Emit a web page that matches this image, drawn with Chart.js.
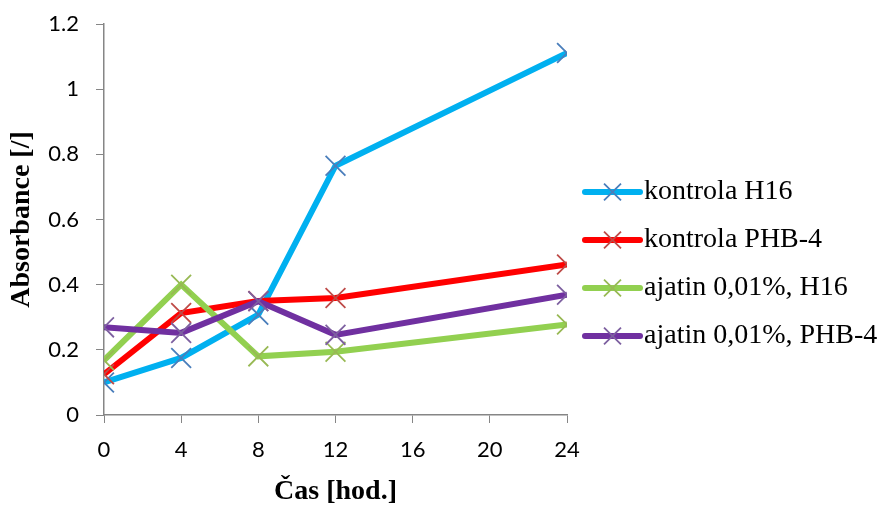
<!DOCTYPE html>
<html>
<head>
<meta charset="utf-8">
<script src="https://cdn.jsdelivr.net/npm/chart.js@4/dist/chart.umd.min.js"></script>
<style>
  html, body { margin: 0; padding: 0; background: #fff; }
  #wrap { width: 890px; height: 507px; }
</style>
</head>
<body>
<div id="wrap"><canvas id="c" width="890" height="507"></canvas></div>
<script>
// Sampling times [h]
const hours = [0, 4, 8, 12, 24];

// Absorbance readings per series
const kontrolaH16 = [0.10, 0.175, 0.308, 0.765, 1.111];
const kontrolaPHB4 = [0.125, 0.313, 0.35, 0.359, 0.462];
const ajatinH16 = [0.168, 0.40, 0.18, 0.194, 0.278];
const ajatinPHB4 = [0.269, 0.252, 0.349, 0.246, 0.369];

// Axis tick labels
const xTickLabels = ['0', '4', '8', '12', '16', '20', '24'];
const yTickLabels = ['0', '0.2', '0.4', '0.6', '0.8', '1', '1.2'];

const seriesLabels = ['kontrola H16', 'kontrola PHB-4', 'ajatin 0,01%, H16', 'ajatin 0,01%, PHB-4'];
const lineColors = ['#00B0F0', '#FF0000', '#92D050', '#7030A0'];
const markerColors = ['#4A7EBB', '#BE4B48', '#98B954', '#7D60A0'];

const seriesValues = [kontrolaH16, kontrolaPHB4, ajatinH16, ajatinPHB4];

const datasets = seriesValues.map((vals, i) => ({
  label: seriesLabels[i],
  data: hours.map((h, j) => ({ x: h, y: vals[j] })),
  borderColor: lineColors[i],
  backgroundColor: lineColors[i],
  borderWidth: 6,
  tension: 0,
  pointStyle: 'crossRot',
  pointRadius: 14,
  pointHoverRadius: 14,
  pointBorderColor: markerColors[i],
  pointBorderWidth: 1.8,
  order: seriesValues.length - i
}));

// Legend drawn at the right: line sample with marker, then label text
const sideLegend = {
  id: 'sideLegend',
  afterDraw(chart) {
    const ctx = chart.ctx;
    const x0 = 585, x1 = 640, textX = 644;
    const firstY = 192, step = 48;
    ctx.save();
    chart.data.datasets.forEach((ds, i) => {
      const y = firstY + i * step;
      ctx.beginPath();
      ctx.lineCap = 'round';
      ctx.strokeStyle = ds.borderColor;
      ctx.lineWidth = 6;
      ctx.moveTo(x0, y);
      ctx.lineTo(x1, y);
      ctx.stroke();
      ctx.lineCap = 'butt';
      ctx.strokeStyle = ds.pointBorderColor;
      ctx.fillStyle = ds.pointBorderColor;
      ctx.lineWidth = 1.8;
      Chart.helpers.drawPoint(ctx, { pointStyle: 'crossRot', radius: 12, rotation: 0, borderWidth: 1.8 }, (x0 + x1) / 2, y);
      ctx.fillStyle = '#000';
      ctx.font = '28px "Liberation Serif", "Times New Roman", serif';
      ctx.textBaseline = 'middle';
      ctx.textAlign = 'left';
      ctx.fillText(ds.label, textX, y);
    });
    ctx.restore();
  }
};

const axisGray = '#868686';
const tickFont = { family: 'Lato, "Open Sans", sans-serif', size: 22 };
const titleFont = { family: '"Liberation Serif", "Times New Roman", serif', size: 28, weight: 'bold' };

new Chart(document.getElementById('c'), {
  type: 'line',
  data: { datasets },
  plugins: [sideLegend],
  options: {
    responsive: false,
    animation: false,
    events: [],
    layout: { padding: { top: 24, right: 323, bottom: 0, left: 0 } },
    plugins: {
      legend: { display: false },
      tooltip: { enabled: false }
    },
    scales: {
      x: {
        type: 'linear',
        min: 0,
        max: 24,
        ticks: {
          stepSize: 4, color: '#000', font: tickFont, padding: 14, maxRotation: 0,
          callback: (v, i) => xTickLabels[i]
        },
        grid: { drawOnChartArea: false, drawTicks: true, tickLength: 8, color: axisGray },
        border: { display: true, color: axisGray, width: 1.5 },
        title: { display: true, text: 'Čas [hod.]', color: '#000', font: titleFont, padding: { top: 0, bottom: -2 } },
        afterFit(scale) { scale.height = 92; scale.paddingLeft = 0; scale.paddingRight = 0; }
      },
      y: {
        min: 0,
        max: 1.2,
        ticks: {
          stepSize: 0.2, color: '#000', font: tickFont, padding: 17,
          callback: (v, i) => yTickLabels[i]
        },
        grid: { drawOnChartArea: false, drawTicks: true, tickLength: 8, color: axisGray },
        border: { display: true, color: axisGray, width: 1.5 },
        title: { display: true, text: 'Absorbance [/]', color: '#000', font: titleFont, padding: { top: 5, bottom: 0 } },
        afterFit(scale) { scale.width = 104; scale.paddingTop = 0; scale.paddingBottom = 0; }
      }
    }
  }
});
</script>
</body>
</html>
